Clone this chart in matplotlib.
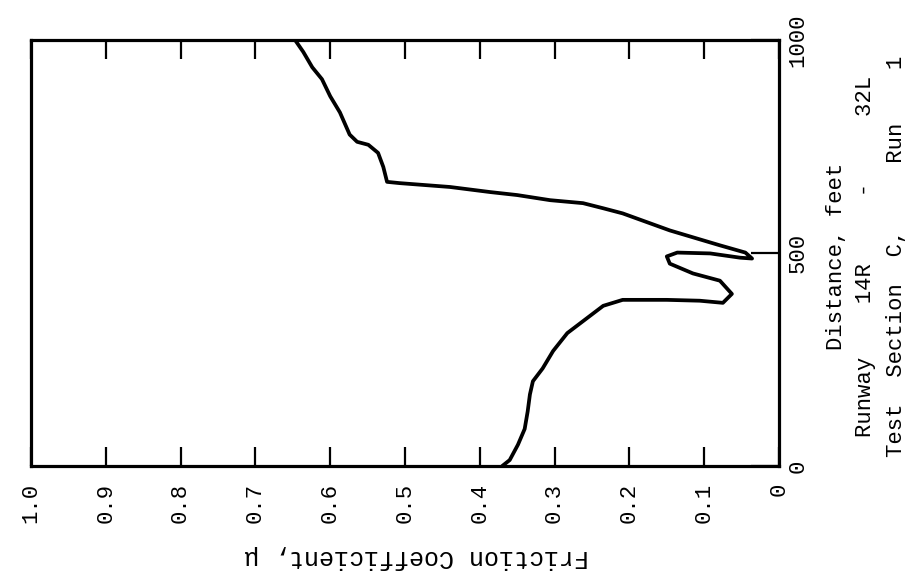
import matplotlib
matplotlib.use("Agg")
import matplotlib.pyplot as plt
from matplotlib.ticker import FixedLocator, FixedFormatter

# Data: path of the trace (distance in feet, friction coefficient)
distance = [0, 14, 50, 87, 128, 168, 199, 229, 270, 312, 340, 376, 390, 390, 388, 383,
            404, 435, 452, 475, 492, 501, 499, 489, 487, 501, 518, 530, 553, 593, 605,
            617, 624, 636, 643, 655, 664, 667, 702, 735, 754, 761, 778, 830, 868, 908,
            936, 972, 1000]
friction = [0.37, 0.360, 0.349, 0.340, 0.336, 0.333, 0.329, 0.316, 0.302, 0.283, 0.262,
            0.235, 0.209, 0.150, 0.106, 0.075, 0.063, 0.079, 0.115, 0.146, 0.150, 0.136,
            0.092, 0.052, 0.036, 0.045, 0.079, 0.102, 0.146, 0.209, 0.235, 0.262, 0.306,
            0.350, 0.386, 0.440, 0.507, 0.524, 0.529, 0.536, 0.549, 0.564, 0.574, 0.587,
            0.600, 0.611, 0.624, 0.636, 0.647]

mu_ticks = [1.0, 0.9, 0.8, 0.7, 0.6, 0.5, 0.4, 0.3, 0.2, 0.1, 0.0]
mu_labels = ["1.0", "0.9", "0.8", "0.7", "0.6", "0.5", "0.4", "0.3", "0.2", "0.1", "0"]
dist_ticks = [0, 500, 1000]
dist_labels = ["0", "500", "1000"]

mono = ["Liberation Mono", "DejaVu Sans Mono"]
plt.rcParams["font.family"] = mono

fig = plt.figure(figsize=(9.18, 5.72), dpi=100)
ax = fig.add_axes([31 / 918, 1 - 466 / 572, (779 - 31) / 918, (466 - 40) / 572])
ax.plot(friction, distance, color="black", lw=2.7, solid_joinstyle="round",
        solid_capstyle="round")
ax.set_xlim(1.0, 0.0)
ax.set_ylim(0, 1000)

for s in ax.spines.values():
    s.set_linewidth(2.3)

# friction axis (bottom), ticks on bottom and top
ax.xaxis.set_major_locator(FixedLocator(mu_ticks))
ax.xaxis.set_major_formatter(FixedFormatter(mu_labels))
ax.xaxis.set_minor_locator(FixedLocator([0.5]))
ax.tick_params(axis="x", which="major", direction="in", top=True, bottom=True,
               length=14, width=1.6, labelsize=16, labelrotation=90, pad=12)
ax.tick_params(axis="x", which="minor", direction="in", top=True, bottom=True,
               length=35, width=1.6)

# distance axis (right)
ax.yaxis.set_major_locator(FixedLocator(dist_ticks))
ax.yaxis.set_major_formatter(FixedFormatter(dist_labels))
ax.yaxis.set_minor_locator(FixedLocator([500]))
ax.tick_params(axis="y", which="major", direction="in", left=False, right=True,
               labelleft=False, labelright=True, length=20, width=1.6,
               labelsize=16, labelrotation=90, pad=6)
ax.tick_params(axis="y", which="minor", direction="in", left=True, right=False,
               length=26, width=1.6)
for lab in ax.get_yticklabels():
    lab.set_verticalalignment("center")

ax.set_xlabel("Friction Coefficient, μ", rotation=180, fontsize=18)
ax.xaxis.set_label_coords(0.515, -0.185)

yc = 1 - 256 / 572
fig.text(836 / 918, yc, "Distance, feet", rotation=90, ha="center",
         va="center", fontsize=16)
fig.text(866 / 918, yc, "Runway    14R     -     32L", rotation=90,
         ha="center", va="center", fontsize=16)
fig.text(896 / 918, yc, "Test  Section  C,     Run    1", rotation=90,
         ha="center", va="center", fontsize=16)

fig.savefig("out.png", dpi=100)
